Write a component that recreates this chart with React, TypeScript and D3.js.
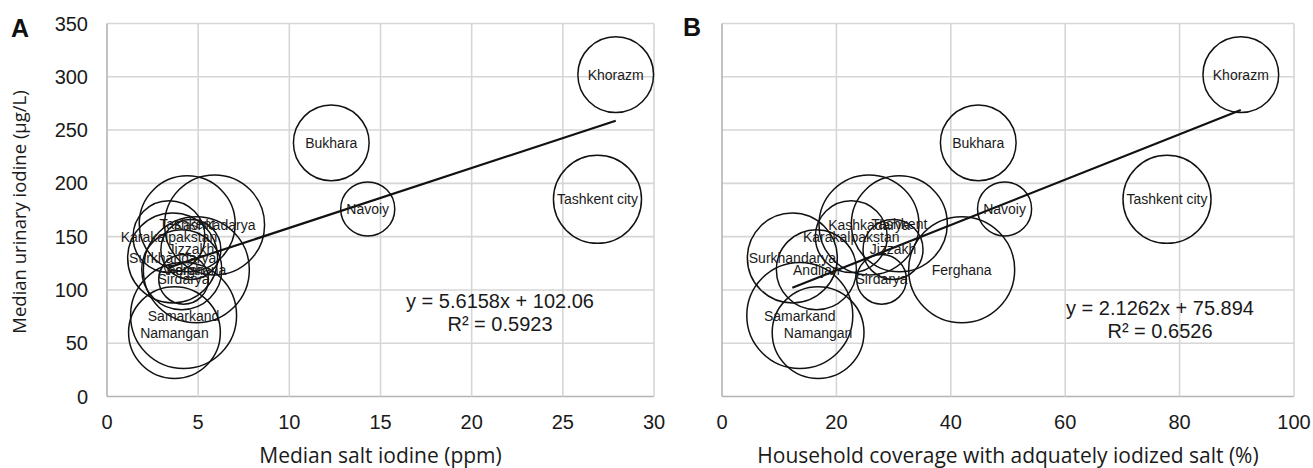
import React from "react";
import * as d3 from "d3";

const regions = ["Khorazm", "Bukhara", "Navoiy", "Tashkent city", "Ferghana", "Sirdarya", "Jizzakh", "Karakalpakstan", "Surkhandarya", "Andijan", "Samarkand", "Namangan", "Tashkent", "Kashkadarya"];
const urinaryIodine = [302, 238, 176, 185, 119, 110, 138, 150, 130, 119, 76, 60, 162, 161];
const saltIodine = [27.9, 12.3, 14.3, 26.9, 4.9, 4.2, 4.6, 3.4, 3.6, 4.1, 4.2, 3.7, 4.4, 5.9];
const coverage = [90.7, 44.8, 49.4, 77.8, 41.9, 27.9, 29.9, 22.6, 12.3, 16.5, 13.6, 16.8, 31.0, 25.7];
const bubbleSize = [51, 51, 26, 69, 100, 22, 32, 46, 72, 57, 100, 75, 82, 89];

const yTicks = [0, 50, 100, 150, 200, 250, 300, 350];
const xTicksA = [0, 5, 10, 15, 20, 25, 30];
const xTicksB = [0, 20, 40, 60, 80, 100];

const fitA = { slope: 5.6158, intercept: 102.06, r2: "0.5923", eq: "y = 5.6158x + 102.06" };
const fitB = { slope: 2.1262, intercept: 75.894, r2: "0.6526", eq: "y = 2.1262x + 75.894" };

const W = 1313;
const H = 468;
const tickFont = "'Liberation Sans', Arial, sans-serif";
const titleFont = "'Open Sans', sans-serif";

const rScale = d3.scaleSqrt().domain([0, 100]).range([0, 53]);

type PanelProps = {
  xs: number[];
  xDomain: [number, number];
  xTicks: number[];
  x0: number;
  x1: number;
  showY: boolean;
  fit: { slope: number; intercept: number; r2: string; eq: string };
  eqX: number;
  eqY: number;
  title: string;
  letter: string;
  letterX: number;
  letterY: number;
};

function Panel(p: PanelProps) {
  const x = d3.scaleLinear().domain(p.xDomain).range([p.x0, p.x1]);
  const y = d3.scaleLinear().domain([0, 350]).range([396.5, 23.5]);
  const xmin = d3.min(p.xs) as number;
  const xmax = d3.max(p.xs) as number;
  const line = d3.line<number>().x((d) => x(d)).y((d) => y(p.fit.slope * d + p.fit.intercept));
  return (
    <g>
      {yTicks.map((t) => (
        <line key={"gy" + t} x1={p.x0} x2={p.x1} y1={y(t)} y2={y(t)} stroke={t === 0 ? "#b3b3b3" : "#d6d6d6"} strokeWidth={1.6} />
      ))}
      {p.xTicks.map((t, i) => (
        <line key={"gx" + t} x1={x(t)} x2={x(t)} y1={y(0)} y2={y(350)} stroke={i === 0 ? "#b3b3b3" : "#d6d6d6"} strokeWidth={1.6} />
      ))}
      {p.showY &&
        yTicks.map((t) => (
          <text key={"ty" + t} x={88} y={y(t) + 7} textAnchor="end" fontFamily={tickFont} fontSize={20} fill="#1a1a1a">
            {t}
          </text>
        ))}
      {p.xTicks.map((t) => (
        <text key={"tx" + t} x={x(t)} y={429} textAnchor="middle" fontFamily={tickFont} fontSize={20} fill="#1a1a1a">
          {t}
        </text>
      ))}
      {p.xs.map((v, i) => (
        <circle key={"c" + i} cx={x(v)} cy={y(urinaryIodine[i])} r={rScale(bubbleSize[i])} fill="none" stroke="#111" strokeWidth={1.5} />
      ))}
      <path d={line([xmin, xmax]) as string} stroke="#111" strokeWidth={2.2} fill="none" />
      {p.xs.map((v, i) => (
        <text key={"l" + i} x={x(v)} y={y(urinaryIodine[i]) + 5} textAnchor="middle" fontFamily={tickFont} fontSize={14} fill="#1a1a1a">
          {regions[i]}
        </text>
      ))}
      <text x={p.eqX} y={p.eqY} textAnchor="middle" fontFamily={tickFont} fontSize={20} fill="#1a1a1a">
        {p.fit.eq}
      </text>
      <text x={p.eqX} y={p.eqY + 23} textAnchor="middle" fontFamily={tickFont} fontSize={20} fill="#1a1a1a">
        {"R² = " + p.fit.r2}
      </text>
      <text x={(p.x0 + p.x1) / 2} y={463} textAnchor="middle" fontFamily={titleFont} fontSize={21} fill="#1a1a1a">
        {p.title}
      </text>
      <text x={p.letterX} y={p.letterY} fontFamily={tickFont} fontWeight="bold" fontSize={25} fill="#111">
        {p.letter}
      </text>
    </g>
  );
}

export default function App() {
  return (
    <svg width={W} height={H} style={{ position: "absolute", left: 0, top: 0, background: "#fff" }}>
      <rect x={0} y={0} width={W} height={H} fill="#fff" />
      <Panel
        xs={saltIodine}
        xDomain={[0, 30]}
        xTicks={xTicksA}
        x0={107}
        x1={654}
        showY={true}
        fit={fitA}
        eqX={500}
        eqY={308}
        title="Median salt iodine (ppm)"
        letter="A"
        letterX={11}
        letterY={37}
      />
      <Panel
        xs={coverage}
        xDomain={[0, 100]}
        xTicks={xTicksB}
        x0={722}
        x1={1294}
        showY={false}
        fit={fitB}
        eqX={1160}
        eqY={315}
        title="Household coverage with adquately iodized salt (%)"
        letter="B"
        letterX={683}
        letterY={36}
      />
      <text transform="translate(26,212) rotate(-90)" textAnchor="middle" fontFamily={titleFont} fontSize={18.5} fill="#1a1a1a">
        Median urinary iodine (µg/L)
      </text>
    </svg>
  );
}
